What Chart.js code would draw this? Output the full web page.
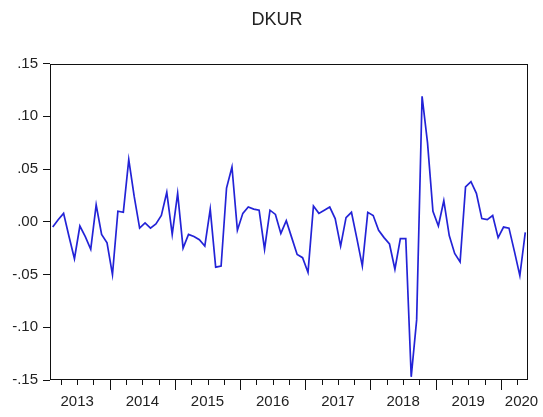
<!DOCTYPE html>
<html>
<head>
<meta charset="utf-8">
<script src="https://cdn.jsdelivr.net/npm/chart.js@4"></script>
<style>
  body { margin: 0; background: #fff; }
  #wrap { width: 543px; height: 417px; }
</style>
</head>
<body>
<div id="wrap"><canvas id="myChart" width="543" height="417"></canvas></div>
<script>
// Monthly series, first obs Feb 2013
var startYear = 2013;
var startMonth = 2;

// DKUR values
var dkur = [
  -0.005, 0.002, 0.008, -0.014, -0.035, -0.004, -0.014, -0.026, 0.016, -0.012, -0.020,
  -0.050, 0.010, 0.009, 0.059, 0.024, -0.006, -0.001, -0.006, -0.002, 0.006, 0.028, -0.012, 0.027,
  -0.025, -0.012, -0.014, -0.017, -0.023, 0.012, -0.043, -0.042, 0.032, 0.052, -0.008, 0.008,
  0.014, 0.012, 0.011, -0.026, 0.011, 0.007, -0.011, 0.001, -0.015, -0.031, -0.034,
  -0.048, 0.015, 0.008, 0.011, 0.014, 0.003, -0.023, 0.004, 0.009, -0.016, -0.042, 0.009,
  0.006, -0.008, -0.015, -0.021, -0.045, -0.016, -0.016, -0.147, -0.093, 0.119, 0.075, 0.010,
  -0.004, 0.020, -0.013, -0.030, -0.038, 0.033, 0.038, 0.027, 0.003, 0.002, 0.006, -0.015,
  -0.005, -0.006, -0.028, -0.051, -0.010
];

var yearLabels = ['2013', '2014', '2015', '2016', '2017', '2018', '2019', '2020'];
var yTickValues = [-0.15, -0.10, -0.05, 0.00, 0.05, 0.10, 0.15];

var xMin = -0.5;
var xMax = dkur.length - 0.5;

// label sits on July 1st of each year, last one pulled inside the frame
var yearPos = yearLabels.map(function (y) {
  var p = (parseInt(y) - startYear) * 12 + (7 - startMonth) - 0.5;
  return Math.min(p, xMax - 1.2);
});

function fmtY(v) {
  var s = String(Math.round(Math.abs(v) * 100));
  if (s.length < 2) s = '0' + s;
  return (v < -1e-9 ? '-' : '') + '.' + s;
}

// frame + quarter / year tick marks on the time axis
var framePlugin = {
  id: 'frame',
  afterLayout: function (chart) {
    // nudge the title box so it centres like the original
    if (chart.titleBlock) chart.titleBlock.left = 26;
  },
  afterDraw: function (chart) {
    var ctx = chart.ctx, a = chart.chartArea, x = chart.scales.x;
    ctx.save();
    ctx.strokeStyle = '#111';
    ctx.lineWidth = 1;
    ctx.strokeRect(Math.round(a.left) + 0.5, Math.round(a.top) + 0.5,
                   Math.round(a.width) - 1, Math.round(a.height) - 1);
    ctx.beginPath();
    for (var i = 1; i < dkur.length; i++) {
      var m = (startMonth - 1 + i) % 12;
      if (m % 3 !== 0) continue;
      var px = Math.round(x.getPixelForValue(i - 0.5)) + 0.5;
      var len = m === 0 ? 10 : 5;
      ctx.moveTo(px, a.bottom);
      ctx.lineTo(px, a.bottom + len);
    }
    ctx.stroke();
    ctx.restore();
  }
};

var ctx = document.getElementById('myChart').getContext('2d');
var myChart = new Chart(ctx, {
  type: 'line',
  data: {
    datasets: [{
      label: 'DKUR',
      data: dkur.map(function (v, i) { return { x: i, y: v }; }),
      borderColor: 'rgb(35,35,215)',
      borderWidth: 1.7,
      pointRadius: 0,
      tension: 0,
      fill: false
    }]
  },
  options: {
    responsive: false,
    animation: false,
    layout: { padding: { left: 0, right: 15, top: 0, bottom: 0 } },
    plugins: {
      legend: { display: false },
      tooltip: { enabled: false },
      title: {
        display: true,
        text: 'DKUR',
        color: '#222',
        font: { family: 'Liberation Sans', size: 18, weight: 'normal' },
        padding: { top: 9, bottom: 33 }
      }
    },
    scales: {
      x: {
        type: 'linear',
        min: xMin,
        max: xMax,
        afterBuildTicks: function (scale) {
          scale.ticks = yearPos.map(function (p) { return { value: p }; });
        },
        afterFit: function (scale) {
          scale.height = 37;
          scale.paddingLeft = 0;
          scale.paddingRight = 0;
        },
        grid: { display: false, drawTicks: false },
        border: { display: false },
        ticks: {
          autoSkip: false,
          maxRotation: 0,
          padding: 13,
          color: '#222',
          font: { family: 'Liberation Sans', size: 15 },
          callback: function (v, idx) { return yearLabels[idx]; }
        }
      },
      y: {
        min: -0.15,
        max: 0.15,
        afterBuildTicks: function (scale) {
          scale.ticks = yTickValues.map(function (v) { return { value: v }; });
        },
        afterFit: function (scale) { scale.width = 50; },
        grid: { drawOnChartArea: false, drawTicks: true, tickLength: 7, tickColor: '#111', tickWidth: 1 },
        border: { display: false },
        ticks: {
          padding: 5,
          color: '#222',
          font: { family: 'Liberation Sans', size: 15 },
          callback: function (v) { return fmtY(v); }
        }
      }
    }
  },
  plugins: [framePlugin]
});
</script>
</body>
</html>
